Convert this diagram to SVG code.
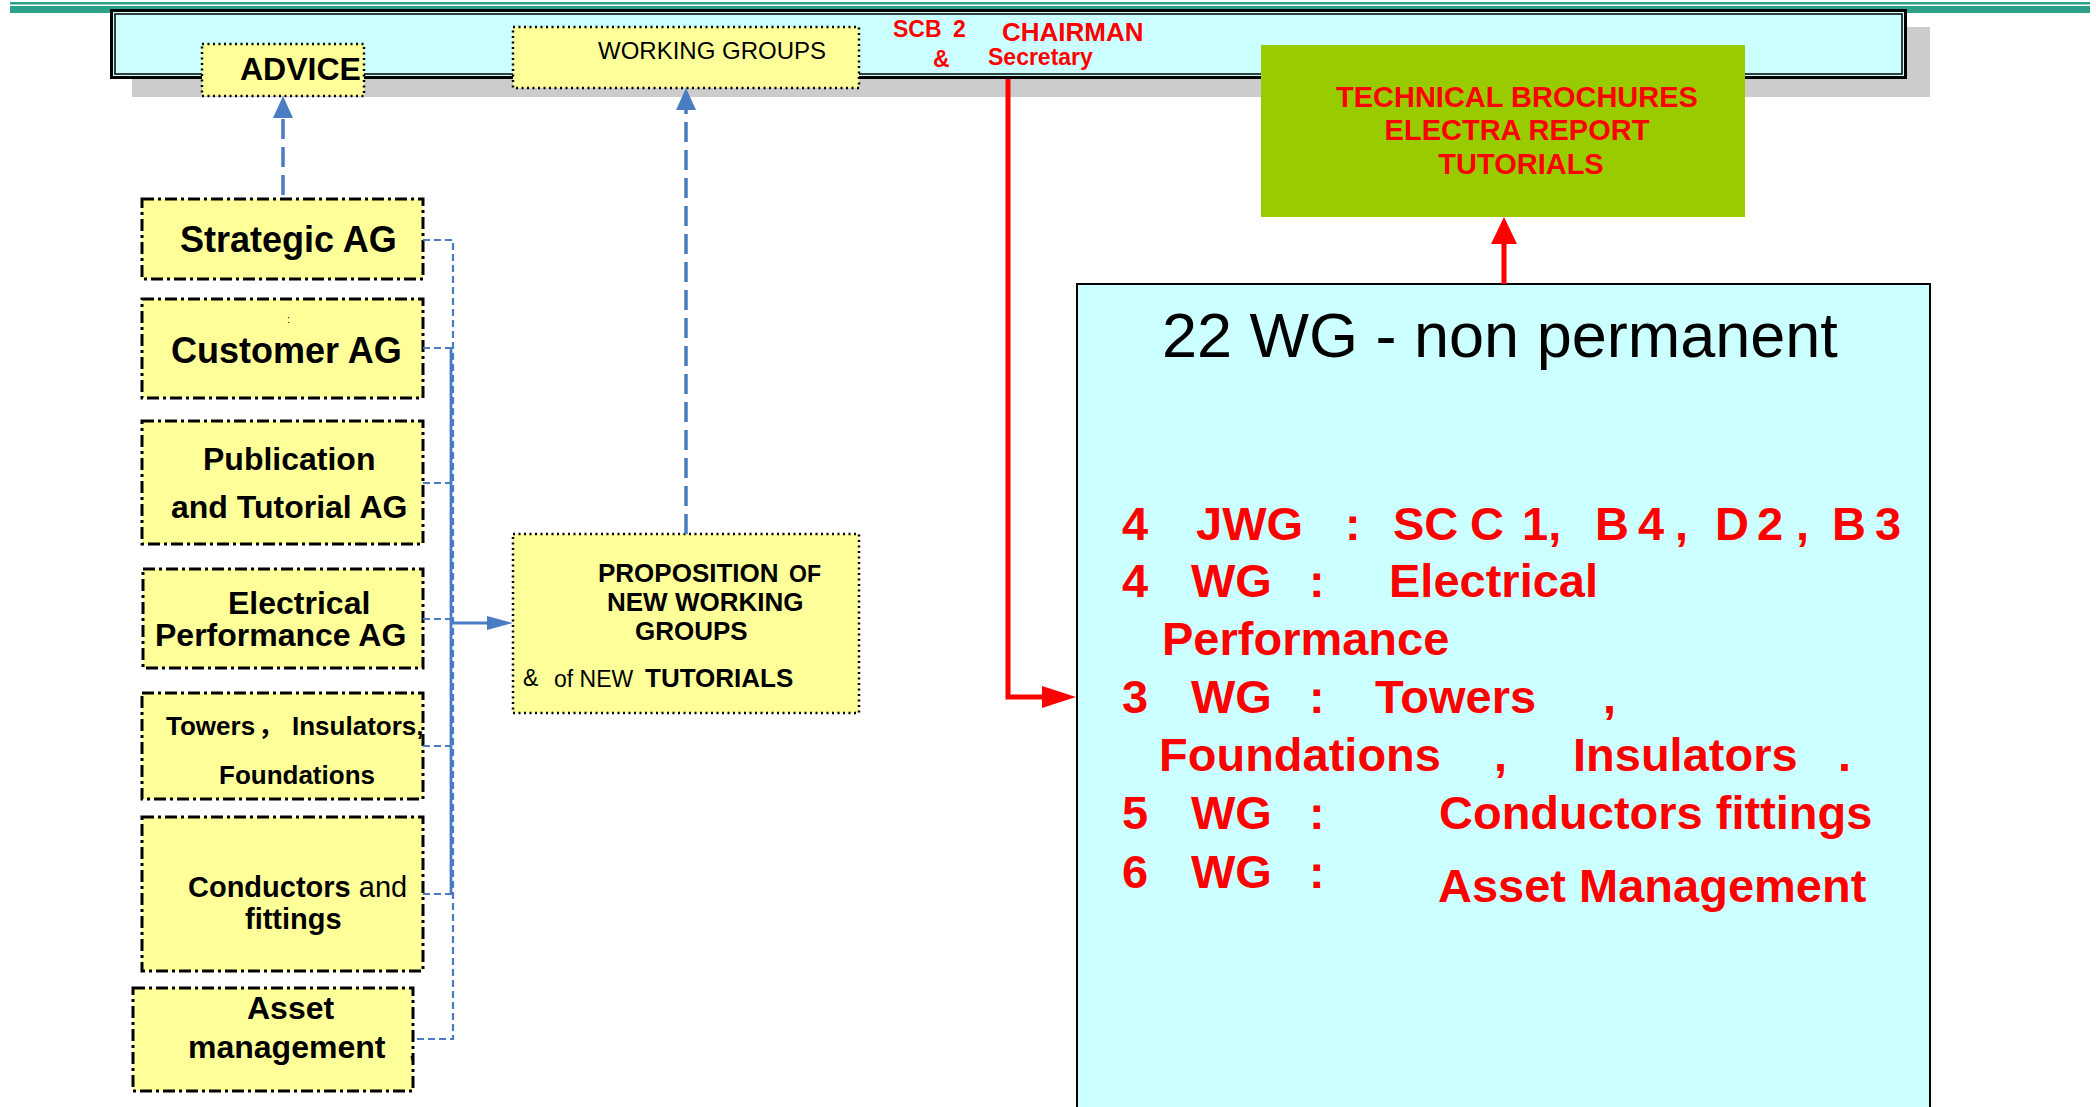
<svg xmlns="http://www.w3.org/2000/svg" width="2096" height="1107" viewBox="0 0 2096 1107">
<defs>
<style>
text { font-family: "Liberation Sans", Arial, "Noto Sans CJK SC", sans-serif; }
.b { font-weight: bold; }
.ag { fill: #FFFF99; stroke: #000; stroke-width: 3; stroke-dasharray: 12 4 3 4; }
.dot { fill: #FFFF99; stroke: #000; stroke-width: 2.5; stroke-dasharray: 2 3.5; }
.red { fill: #FF0000; }
.blk { fill: #000; }
.bdash { fill: none; stroke: #4A7CC4; stroke-width: 3.5; stroke-dasharray: 20 8; }
.bthin { fill: none; stroke: #4A7CC4; stroke-width: 2.2; stroke-dasharray: 7 4; }
.bsolid { fill: none; stroke: #4A7CC4; stroke-width: 2.8; }
.rline { fill: none; stroke: #FF0000; stroke-width: 5; }
</style>
<marker id="blueBig" markerUnits="userSpaceOnUse" viewBox="0 0 22 20" markerWidth="22" markerHeight="20" refX="0" refY="10" orient="auto">
<path d="M0,0 L22,10 L0,20 z" fill="#4A7CC4"/>
</marker>
<marker id="blueSmall" markerUnits="userSpaceOnUse" viewBox="0 0 26 14" markerWidth="26" markerHeight="14" refX="0" refY="7" orient="auto">
<path d="M0,0 L26,7 L0,14 z" fill="#4A7CC4"/>
</marker>
<marker id="redSide" markerUnits="userSpaceOnUse" viewBox="0 0 34 22" markerWidth="34" markerHeight="22" refX="0" refY="11" orient="auto">
<path d="M0,0 L34,11 L0,22 z" fill="#FF0000"/>
</marker>
<marker id="redUp" markerUnits="userSpaceOnUse" viewBox="0 0 27 26" markerWidth="27" markerHeight="26" refX="0" refY="13" orient="auto">
<path d="M0,0 L27,13 L0,26 z" fill="#FF0000"/>
</marker>
</defs>

<rect x="0" y="0" width="2096" height="1107" fill="#FFFFFF"/>

<g id="top-rule">
<rect x="10" y="2" width="2080" height="2.5" fill="#2DA08A"/>
<rect x="10" y="6" width="2080" height="7" fill="#2DA08A"/>
</g>

<g id="header">
<rect x="132" y="27" width="1798" height="70" fill="#CCCCCC"/>
<rect x="111.5" y="10.5" width="1794" height="67" fill="#CCFFFF" stroke="#000" stroke-width="3"/>
<rect x="115" y="14" width="1787" height="60" fill="none" stroke="#000" stroke-width="1.5"/>
</g>

<g id="advice">
<rect class="dot" x="202" y="44" width="162" height="52"/>
<text class="b blk" x="240" y="80" font-size="32">ADVICE</text>
</g>

<g id="working-groups">
<rect class="dot" x="513" y="27" width="346" height="61"/>
<text class="blk" x="598" y="59" font-size="24">WORKING GROUPS</text>
</g>

<g id="chairman">
<text class="b red" font-size="23"><tspan x="893" y="37">SCB</tspan><tspan x="953" y="37">2</tspan><tspan x="933" y="67">&amp;</tspan></text>
<text class="b red" x="1002" y="41" font-size="26">CHAIRMAN</text>
<text class="b red" x="988" y="65" font-size="23">Secretary</text>
</g>

<g id="publications">
<rect x="1261" y="45" width="484" height="172" fill="#99CC00"/>
<text class="b red" font-size="29" text-anchor="middle">
<tspan x="1521" y="107">TECHNICAL BROCHURES</tspan>
<tspan x="1521" y="140">ELECTRA REPORT</tspan>
<tspan x="1521" y="174">TUTORIALS</tspan>
</text>
</g>

<g id="strategic-ag">
<rect class="ag" x="142" y="199" width="281" height="80"/>
<text class="b blk" x="180" y="252" font-size="36">Strategic AG</text>
</g>

<g id="customer-ag">
<rect class="ag" x="142" y="299" width="281" height="99"/>
<text class="blk" x="287" y="323" font-size="11">:</text>
<text class="b blk" x="171" y="363" font-size="36">Customer AG</text>
</g>

<g id="publication-ag">
<rect class="ag" x="142" y="421" width="281" height="123"/>
<text class="b blk" font-size="32"><tspan x="203" y="470">Publication</tspan><tspan x="171" y="518">and Tutorial AG</tspan></text>
</g>

<g id="electrical-ag">
<rect class="ag" x="143" y="569" width="280" height="99"/>
<text class="b blk" font-size="32"><tspan x="228" y="614">Electrical</tspan><tspan x="155" y="646">Performance AG</tspan></text>
</g>

<g id="towers-ag">
<rect class="ag" x="142" y="693" width="281" height="106"/>
<text class="b blk" font-size="26"><tspan x="166" y="735">Towers</tspan><tspan x="258" y="735">，</tspan><tspan x="292" y="735">Insulators,</tspan><tspan x="219" y="784">Foundations</tspan></text>
</g>

<g id="conductors-ag">
<rect class="ag" x="142" y="817" width="281" height="154"/>
<text class="blk" font-size="29"><tspan x="188" y="897" font-weight="bold">Conductors</tspan><tspan> and</tspan><tspan x="245" y="929" font-weight="bold">fittings</tspan></text>
</g>

<g id="asset-ag">
<rect class="ag" x="133" y="988" width="280" height="103"/>
<text class="b blk" font-size="32"><tspan x="247" y="1019">Asset</tspan><tspan x="188" y="1058">management</tspan></text>
<text class="blk" x="409" y="1058" font-size="18">,</text>
</g>

<g id="proposition">
<rect class="dot" x="513" y="534" width="346" height="179"/>
<text class="blk" font-size="26">
<tspan x="598" y="582" font-weight="bold">PROPOSITION</tspan><tspan x="789" y="582" font-weight="bold" font-size="23">OF</tspan>
<tspan x="607" y="611" font-weight="bold">NEW WORKING</tspan>
<tspan x="635" y="640" font-weight="bold">GROUPS</tspan>
</text>
<text class="blk" font-size="23"><tspan x="523" y="686">&amp;</tspan><tspan x="554" y="687">of NEW</tspan><tspan x="645" y="687" font-weight="bold" font-size="26">TUTORIALS</tspan></text>
</g>

<g id="working-groups-22">
<rect x="1077" y="284" width="853" height="830" fill="#CCFFFF" stroke="#000" stroke-width="2"/>
<text class="blk" x="1162" y="357" font-size="63">22 WG - non permanent</text>
<text class="b red" font-size="47">
<tspan x="1122" y="540">4</tspan><tspan x="1196" y="540">JWG</tspan><tspan x="1345" y="540">:</tspan><tspan x="1393" y="540">SC</tspan><tspan x="1470" y="540">C</tspan><tspan x="1522" y="540">1,</tspan><tspan x="1595" y="540">B</tspan><tspan x="1638" y="540">4</tspan><tspan x="1675" y="540">,</tspan><tspan x="1715" y="540">D</tspan><tspan x="1757" y="540">2</tspan><tspan x="1796" y="540">,</tspan><tspan x="1832" y="540">B</tspan><tspan x="1875" y="540">3</tspan>
<tspan x="1122" y="597">4</tspan><tspan x="1191" y="597">WG</tspan><tspan x="1309" y="597">:</tspan><tspan x="1389" y="597">Electrical</tspan>
<tspan x="1162" y="655">Performance</tspan>
<tspan x="1122" y="713">3</tspan><tspan x="1191" y="713">WG</tspan><tspan x="1309" y="713">:</tspan><tspan x="1375" y="713">Towers</tspan><tspan x="1603" y="713">,</tspan>
<tspan x="1159" y="771">Foundations</tspan><tspan x="1494" y="771">,</tspan><tspan x="1573" y="771">Insulators</tspan><tspan x="1838" y="771">.</tspan>
<tspan x="1122" y="829">5</tspan><tspan x="1191" y="829">WG</tspan><tspan x="1309" y="829">:</tspan><tspan x="1439" y="829">Conductors fittings</tspan>
<tspan x="1122" y="888">6</tspan><tspan x="1191" y="888">WG</tspan><tspan x="1309" y="888">:</tspan><tspan x="1438" y="902">Asset Management</tspan>
</text>
</g>

<g id="connectors">
<path class="bdash" d="M283,195 L283,118" marker-end="url(#blueBig)"/>
<path class="bdash" d="M686,534 L686,110" marker-end="url(#blueBig)"/>
<path class="bthin" d="M423,240 L453,240 L453,1039 L413,1039"/>
<path class="bthin" d="M423,348 L453,348"/>
<path class="bthin" d="M423,483 L453,483"/>
<path class="bthin" d="M423,619 L453,619"/>
<path class="bthin" d="M423,746 L453,746"/>
<path class="bthin" d="M423,894 L453,894"/>
<path class="bsolid" d="M451,348 L451,894"/>
<path class="bsolid" d="M451,623 L487,623" marker-end="url(#blueSmall)"/>
<path class="rline" d="M1008,79 L1008,697 L1042,697" marker-end="url(#redSide)"/>
<path class="rline" d="M1504,284 L1504,244" marker-end="url(#redUp)"/>
</g>
</svg>
